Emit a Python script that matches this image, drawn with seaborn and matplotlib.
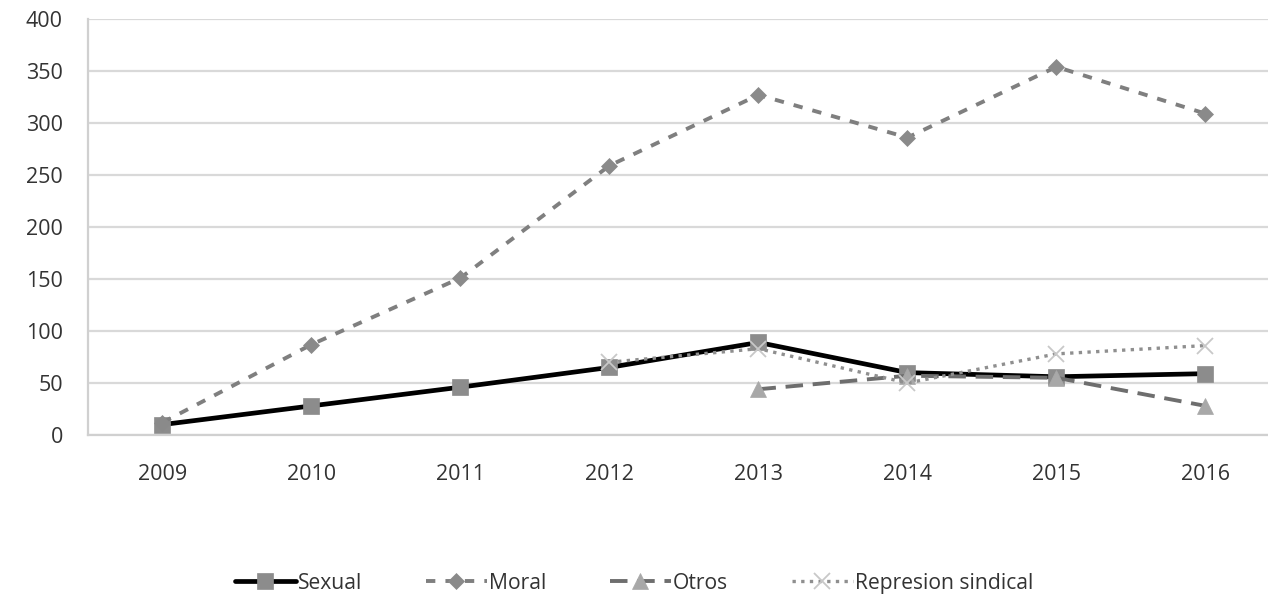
import numpy as np
import pandas as pd
import matplotlib
matplotlib.use("Agg")
import matplotlib.pyplot as plt
import seaborn as sns

years = ["2009", "2010", "2011", "2012", "2013", "2014", "2015", "2016"]
sexual = [10, 28, 46, 65, 89, 60, 56, 59]
moral = [12, 87, 151, 259, 327, 286, 354, 309]
otros = [np.nan, np.nan, np.nan, np.nan, 44, 57, 55, 28]
represion = [np.nan, np.nan, np.nan, 70, 83, 50, 78, 86]

sns.set_theme(style="white")
plt.rcParams["font.family"] = ["Open Sans", "DejaVu Sans"]

fig = plt.figure(figsize=(12.68, 6.03), dpi=100)
ax = fig.add_axes([0.0694, 0.2786, 0.9306, 0.6899])

pos = np.arange(len(years))

series = [
    ("Sexual", sexual, dict(color="#000000", lw=3.4, ls="-", marker="s", ms=12,
                            mfc="#8c8c8c", mec="#8c8c8c")),
    ("Moral", moral, dict(color="#7f7f7f", lw=2.8, ls=(0, (2.4, 2.6)), marker="D", ms=8.5,
                          mfc="#8a8a8a", mec="#8a8a8a")),
    ("Otros", otros, dict(color="#6e6e6e", lw=2.8, ls=(0, (4.5, 2.5)), marker="^", ms=11,
                          mfc="#a8a8a8", mec="#a8a8a8")),
    ("Represion sindical", represion, dict(color="#8f8f8f", lw=2.4, ls=(0, (1, 1.6)), marker="x",
                                           ms=11, mfc="#c8c8c8", mec="#c8c8c8", mew=1.3)),
]

for name, vals, st in series:
    df = pd.DataFrame({"x": pos, "y": vals}).dropna()
    sns.lineplot(data=df, x="x", y="y", ax=ax, label=name, color=st["color"],
                 linewidth=st["lw"], linestyle=st["ls"], marker=st["marker"],
                 markersize=st["ms"], markerfacecolor=st["mfc"],
                 markeredgecolor=st["mec"], markeredgewidth=st.get("mew", 0.5),
                 errorbar=None, sort=False)

ax.set_xlim(-0.5, 7.42)
ax.set_ylim(0, 400)
ax.set_yticks(np.arange(0, 401, 50))
ax.set_xticks(pos)
ax.set_xticklabels(years)
ax.set_xlabel("")
ax.set_ylabel("")
ax.grid(axis="y", color="#d9d9d9", linewidth=1.6)
ax.set_axisbelow(True)
for side in ["top", "right"]:
    ax.spines[side].set_visible(False)
ax.spines["left"].set_color("#d0d0d0")
ax.spines["bottom"].set_color("#d0d0d0")
ax.spines["left"].set_linewidth(1.6)
ax.spines["bottom"].set_linewidth(1.6)
ax.tick_params(axis="both", length=0, labelsize=15.5, colors="#333333")
ax.tick_params(axis="x", pad=21)
ax.tick_params(axis="y", pad=18)

handles, labels = ax.get_legend_handles_labels()
ax.legend_.remove()
fig.legend(handles, labels, loc="center", bbox_to_anchor=(0.5, 0.033), ncol=4,
           frameon=False, fontsize=15.2, handlelength=2.9, handletextpad=0.1,
           columnspacing=3.0, labelcolor="#333333")

fig.savefig("out.png", dpi=100)
